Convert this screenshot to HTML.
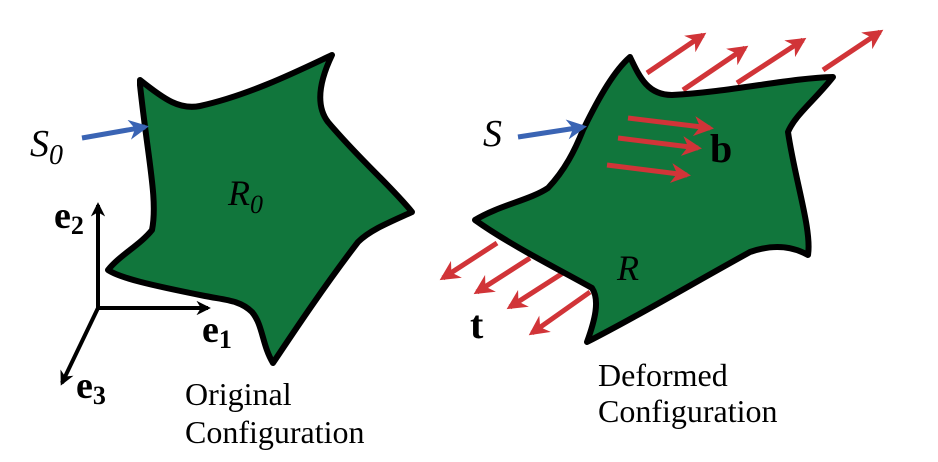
<!DOCTYPE html>
<html><head><style>body{margin:0;background:#fff}</style></head><body>
<svg width="938" height="457" viewBox="0 0 938 457" xmlns="http://www.w3.org/2000/svg">
<defs>
<marker id="r" viewBox="0 0 10 10" refX="8" refY="5" markerWidth="4" markerHeight="4" orient="auto"><path d="M0,0 L10,5 L0,10 L3,5z" fill="#d13438"/></marker>
<marker id="bl" viewBox="0 0 10 10" refX="8" refY="5" markerWidth="4" markerHeight="4" orient="auto"><path d="M0,0 L10,5 L0,10 L3,5z" fill="#3a64b4"/></marker>
<marker id="k" viewBox="0 0 10 10" refX="8" refY="5" markerWidth="3.6" markerHeight="3.6" orient="auto"><path d="M0,0 L10,5 L0,10 L3,5z" fill="#000"/></marker>
</defs>
<path d="M140,80 C165,100 180,110 200,106 C250,95 300,70 332,55 C320,80 315,105 328,122 C360,160 390,185 412,212 C390,222 370,230 358,242 C325,285 295,330 273,363 C262,345 263,325 252,312 C240,300 225,300 205,296 C150,285 120,278 108,270 C120,255 140,245 152,230 C158,200 148,160 140,85 Z" fill="#11763c" stroke="#000" stroke-width="6" stroke-linejoin="round"/>
<g stroke="#d13438" stroke-width="5" fill="none" marker-end="url(#r)">
<line x1="647" y1="73" x2="703" y2="35"/><line x1="683" y1="90" x2="745" y2="48"/><line x1="737" y1="83" x2="803" y2="40"/><line x1="823" y1="70" x2="880" y2="32"/>
<line x1="497" y1="243" x2="443" y2="278"/><line x1="530" y1="258" x2="477" y2="292"/><line x1="563" y1="273" x2="510" y2="307"/><line x1="590" y1="292" x2="532" y2="333"/>
</g>
<path d="M630,57 C640,78 648,95 672,95 C730,92 790,78 833,77 C815,100 795,115 788,132 C795,180 812,230 808,255 C790,245 770,245 750,252 C690,285 640,315 587,342 C595,320 600,300 592,288 C560,270 510,245 475,220 C500,205 530,200 548,188 C565,170 575,150 583,130 C600,95 615,70 630,57 Z" fill="#11763c" stroke="#000" stroke-width="6" stroke-linejoin="round"/>
<g stroke="#d13438" stroke-width="5" fill="none" marker-end="url(#r)">
<line x1="628" y1="118" x2="710" y2="128"/><line x1="618" y1="138" x2="698" y2="148"/><line x1="607" y1="165" x2="687" y2="175"/>
</g>
<g stroke="#3a64b4" stroke-width="5" fill="none" marker-end="url(#bl)">
<line x1="82" y1="138" x2="145" y2="127"/><line x1="518" y1="137" x2="583" y2="127"/>
</g>
<g stroke="#000" stroke-width="4" fill="none" marker-end="url(#k)">
<line x1="98" y1="308" x2="98" y2="205"/><line x1="98" y1="308" x2="208" y2="308"/><line x1="98" y1="308" x2="62" y2="383"/>
</g>
<g style="font-family:'Liberation Serif',serif" fill="#000">
<text x="30" y="156" font-size="38" font-style="italic">S<tspan font-size="28" dy="8">0</tspan></text>
<text x="228" y="205" font-size="36" font-style="italic">R<tspan font-size="26" dy="8">0</tspan></text>
<text x="483" y="146" font-size="38" font-style="italic">S</text>
<text x="617" y="280" font-size="36" font-style="italic">R</text>
<text x="710" y="162" font-size="40" font-weight="bold">b</text>
<text x="470" y="338" font-size="40" font-weight="bold">t</text>
<text x="54" y="228" font-size="38" font-weight="bold">e<tspan font-size="26" dy="6">2</tspan></text>
<text x="202" y="342" font-size="38" font-weight="bold">e<tspan font-size="26" dy="6">1</tspan></text>
<text x="76" y="398" font-size="38" font-weight="bold">e<tspan font-size="26" dy="6">3</tspan></text>
<text x="185" y="405" font-size="32">Original</text>
<text x="185" y="443" font-size="32">Configuration</text>
<text x="598" y="386" font-size="32">Deformed</text>
<text x="598" y="422" font-size="32">Configuration</text>
</g>
</svg>
</body></html>
